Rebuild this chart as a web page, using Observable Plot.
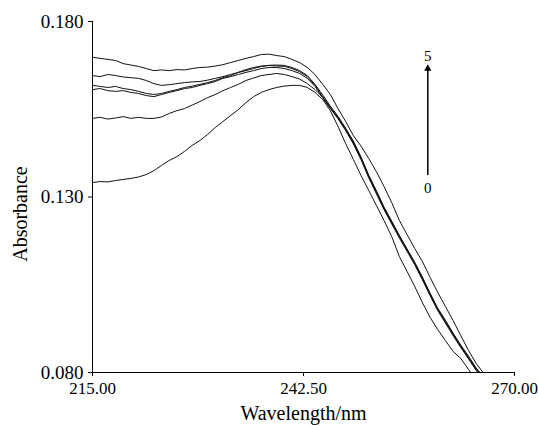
<!DOCTYPE html>
<html><head><meta charset="utf-8">
<script src="https://cdn.jsdelivr.net/npm/d3@7"></script>
<script src="https://cdn.jsdelivr.net/npm/@observablehq/plot@0.6"></script>
<style>html,body{margin:0;padding:0;background:#fff;} svg{display:block;}</style>
</head><body><div id="chart"></div>
<script>
// Wavelength grid (nm)
const wavelength = [215,216,217,218,219,220,221,222,223,224,225,226,227,228,229,230,231,232,233,234,235,236,237,238,239,240,
  241,242,243,244,245,246,247,248,249,250,251,252,253,254,255,256,257,258,259,260,261,262,263,264,265,266];

// Absorbance of each spectrum (0 = lowest at left ... 5 = highest at left)
const curve0 = [0.1341,0.1344,0.1343,0.1347,0.1350,0.1353,0.1357,0.1364,0.1375,0.1390,0.1404,0.1415,0.1430,0.1447,0.1461,0.1478,
  0.1498,0.1515,0.1532,0.1549,0.1569,0.1586,0.1598,0.1606,0.1612,0.1616,0.1618,0.1618,0.1612,0.1598,0.1578,0.1546,0.1501,0.1452,
  0.1407,0.1361,0.1319,0.1276,0.1233,0.1187,0.1130,0.1088,0.1045,0.0999,0.0957,0.0922,0.0891,0.0860,0.0840,0.0809,0.0778,null];
const curve1 = [0.1524,0.1527,0.1522,0.1525,0.1529,0.1524,0.1527,0.1524,0.1524,0.1528,0.1538,0.1546,0.1552,0.1562,0.1572,0.1583,
  0.1592,0.1603,0.1612,0.1621,0.1632,0.1639,0.1646,0.1649,0.1652,0.1649,0.1643,0.1636,0.1623,0.1606,0.1584,0.1553,0.1525,0.1494,
  0.1457,0.1412,0.1360,0.1315,0.1269,0.1229,0.1189,0.1150,0.1109,0.1066,0.1024,0.0981,0.0943,0.0910,0.0876,0.0841,0.0811,0.0785];
const curve2 = [0.1606,0.1609,0.1603,0.1601,0.1603,0.1598,0.1595,0.1589,0.1586,0.1592,0.1598,0.1603,0.1609,0.1612,0.1618,0.1623,
  0.1629,0.1638,0.1643,0.1649,0.1655,0.1660,0.1666,0.1669,0.1669,0.1666,0.1660,0.1652,0.1638,0.1615,0.1583,0.1552,0.1523,0.1489,
  0.1451,0.1406,0.1355,0.1309,0.1264,0.1223,0.1183,0.1145,0.1107,0.1064,0.1019,0.0976,0.0941,0.0905,0.0871,0.0839,0.0806,0.0779];
const curve3 = [0.1618,0.1615,0.1612,0.1615,0.1609,0.1606,0.1601,0.1595,0.1592,0.1595,0.1601,0.1606,0.1612,0.1616,0.1621,0.1626,
  0.1632,0.1640,0.1646,0.1655,0.1660,0.1666,0.1672,0.1675,0.1673,0.1672,0.1666,0.1657,0.1643,0.1618,0.1586,0.1555,0.1527,0.1492,
  0.1455,0.1410,0.1358,0.1313,0.1267,0.1227,0.1187,0.1148,0.1111,0.1068,0.1022,0.0979,0.0945,0.0908,0.0874,0.0843,0.0809,0.0783];
const curve4 = [0.1646,0.1643,0.1649,0.1646,0.1642,0.1640,0.1638,0.1632,0.1623,0.1618,0.1620,0.1623,0.1626,0.1628,0.1629,0.1633,
  0.1638,0.1643,0.1649,0.1655,0.1663,0.1669,0.1673,0.1675,0.1676,0.1675,0.1669,0.1660,0.1646,0.1621,0.1591,0.1559,0.1530,0.1496,
  0.1459,0.1414,0.1362,0.1318,0.1271,0.1231,0.1190,0.1152,0.1114,0.1072,0.1026,0.0983,0.0949,0.0912,0.0878,0.0847,0.0813,0.0787];
const curve5 = [0.1698,0.1695,0.1692,0.1689,0.1680,0.1676,0.1672,0.1666,0.1660,0.1662,0.1660,0.1663,0.1662,0.1666,0.1669,0.1670,
  0.1673,0.1677,0.1683,0.1689,0.1695,0.1700,0.1706,0.1707,0.1703,0.1700,0.1692,0.1683,0.1669,0.1649,0.1621,0.1592,0.1552,0.1515,
  0.1475,0.1445,0.1410,0.1372,0.1330,0.1284,0.1233,0.1193,0.1153,0.1116,0.1071,0.1028,0.0988,0.0948,0.0905,0.0863,0.0826,0.0797];

const curveNames = ["0","1","2","3","4","5"];
const curveValues = [curve0, curve1, curve2, curve3, curve4, curve5];

// Axis ticks and titles
const xTicks = [215, 242.5, 270];
const yTicks = [0.080, 0.130, 0.180];
const xTitle = ["Wavelength/nm"];
const yTitle = ["Absorbance"];

// Arrow annotation (0 -> 5)
const arrowAt = [{wl: 258.7, from: 0.1361, to: 0.1666}];
const arrowLabels = [{wl: 258.7, a: 0.1700, label: "5"}, {wl: 258.7, a: 0.1324, label: "0"}];

const data = curveNames.flatMap((name, i) =>
  wavelength.map((wl, j) => ({curve: name, wl, a: curveValues[i][j]})));

const serif = "'Liberation Serif', 'Times New Roman', serif";

const chart = Plot.plot({
  width: 538,
  height: 426,
  marginLeft: 92,
  marginRight: 24,
  marginTop: 21,
  marginBottom: 54,
  style: {fontFamily: serif, fontSize: "19px", color: "#000", background: "#fff"},
  x: {domain: [215, 270]},
  y: {domain: [0.08, 0.18]},
  marks: [
    Plot.axisX({ticks: xTicks, tickFormat: d3.format(".2f"), tickSize: 4, fontSize: 17, label: null}),
    Plot.axisY({ticks: yTicks, tickFormat: d3.format(".3f"), tickSize: 4, fontSize: 19, label: null}),
    Plot.line(data, {x: "wl", y: "a", z: "curve", stroke: "#111", strokeWidth: 1, clip: true, curve: "linear"}),
    Plot.ruleX([215], {stroke: "#000"}),
    Plot.ruleY([0.08], {stroke: "#000"}),
    Plot.ruleX(arrowAt, {x: "wl", y1: "from", y2: "to", stroke: "#000", strokeWidth: 1.5}),
    Plot.dot(arrowAt, {x: "wl", y: "to", symbol: "triangle2", r: 3.5, fill: "#000", stroke: "none"}),
    Plot.text(arrowLabels, {x: "wl", y: "a", text: "label", fontSize: 15, fill: "#000"}),
    Plot.text(xTitle, {frameAnchor: "bottom", lineAnchor: "bottom", textAnchor: "middle", dy: 47, fontSize: 20, fill: "#000"}),
    Plot.text(yTitle, {frameAnchor: "left", textAnchor: "middle", dx: -72, dy: 17, rotate: -90, fontSize: 20, fill: "#000"})
  ]
});
document.getElementById("chart").appendChild(chart);
</script>
</body></html>
